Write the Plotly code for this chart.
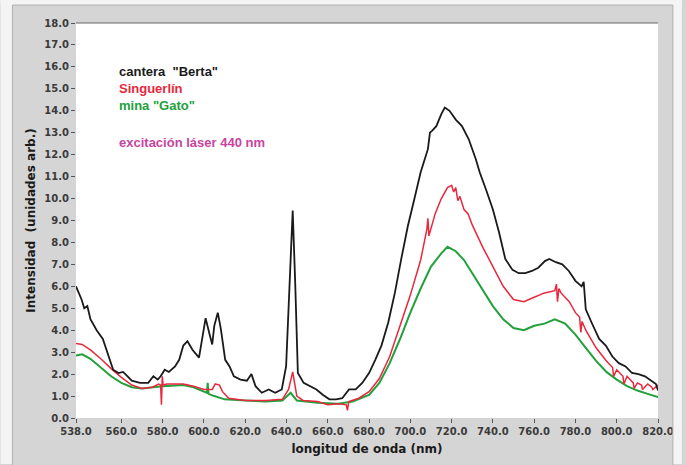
import plotly.graph_objects as go

# ---- data ----
berta_x = [538, 540.7, 542, 543.5, 545, 548, 551, 554.4, 556, 558.6, 560.8, 563, 565, 569, 573, 575.5, 577.6,
           579, 581, 583, 586, 588, 590, 592, 594.5, 597.6, 599, 600.8, 602.5, 604, 605, 606.7, 608.2, 610.3,
           612.4, 614.5, 617.7, 620.8, 623, 625, 628, 631.4, 634.5, 637.7, 639.8, 641.3, 643, 644.2, 645.5,
           648.3, 651.4, 654.5, 657.7, 660.8, 664, 667, 670.3, 673.5, 676.7, 680, 683, 686, 689.3, 692.5,
           695.6, 698.8, 702, 705, 708.5, 709.5, 710.6, 712.6, 715, 716.7, 719, 722, 725, 728.3, 731.7, 733.6,
           736.7, 740, 743, 746, 749.5, 752.5, 755.7, 758.9, 762, 765.2, 767.3, 770.5, 773.6, 776.8, 780, 783,
           784, 785, 788.3, 791.5, 794.7, 797.9, 801, 804.3, 807.4, 810.5, 813.7, 816.8, 819, 820]
berta_y = [6.0, 5.4, 5.0, 5.1, 4.5, 4.0, 3.6, 2.65, 2.2, 2.05, 2.1, 1.9, 1.7, 1.6, 1.6, 1.9, 1.75,
           1.9, 2.2, 2.1, 2.35, 2.65, 3.3, 3.5, 3.1, 2.75, 3.6, 4.55, 3.9, 3.35, 4.2, 4.8, 4.05, 2.65,
           2.35, 1.9, 1.75, 1.7, 2.0, 1.45, 1.15, 1.3, 1.15, 1.3, 2.35, 5.4, 9.45, 6.2, 2.05,
           1.6, 1.45, 1.3, 1.05, 0.85, 0.85, 0.9, 1.3, 1.3, 1.6, 2.05, 2.65, 3.3, 4.35, 5.7,
           7.25, 8.75, 10.0, 11.2, 12.25, 13.0, 13.1, 13.3, 13.85, 14.15, 14.0, 13.6, 13.3, 12.7, 11.8, 11.2,
           10.4, 9.5, 8.45, 7.25, 6.75, 6.6, 6.6, 6.7, 6.85, 7.15, 7.25, 7.1, 7.0, 6.7, 6.25, 6.0,
           6.2, 4.95, 4.25, 3.6, 3.3, 2.8, 2.5, 2.35, 2.05, 2.0, 1.9, 1.7, 1.55, 1.25]

sing_x = [538, 541, 545, 550, 555, 560, 565, 570, 575, 578, 579, 579.4, 579.8, 580.2, 582, 590, 595, 600,
          604, 605.5, 607.5, 609, 612, 620, 630, 638, 641, 643, 645, 648, 655, 660, 665, 669, 669.5, 670.2,
          675, 680, 685, 690, 695, 700, 705, 708, 708.5, 709, 712, 715, 718, 720, 721, 722, 723, 724,
          726, 728, 730, 735, 740, 745, 750, 755, 760, 765, 770, 770.8, 771.3, 772, 773, 777, 780,
          782, 782.6, 783.2, 785, 790, 795, 798, 798.5, 800, 803, 803.5, 805, 808, 808.5, 810, 812,
          812.5, 815, 817, 817.5, 820]
sing_y = [3.4, 3.35, 3.1, 2.7, 2.25, 1.85, 1.5, 1.35, 1.4, 1.55, 1.5, 0.6, 1.9, 1.5, 1.55, 1.55, 1.45, 1.3,
          1.3, 1.55, 1.5, 1.2, 0.9, 0.8, 0.8, 0.85, 1.3, 2.1, 1.0, 0.8, 0.75, 0.6, 0.65, 0.6, 0.35, 0.75,
          0.9, 1.2, 1.8, 2.8, 4.2, 5.6, 7.2, 8.6, 9.1, 8.3, 9.3, 10.0, 10.5, 10.6, 10.3, 10.5, 9.9, 10.1,
          9.5, 9.3, 8.8, 7.8, 6.9, 6.0, 5.4, 5.3, 5.5, 5.7, 5.8, 6.1, 5.3, 5.9, 5.7, 5.3, 4.8,
          4.6, 3.9, 4.4, 4.0, 3.2, 2.6, 2.3, 1.9, 2.2, 1.9, 1.55, 1.9, 1.6, 1.35, 1.6, 1.5, 1.3,
          1.55, 1.4, 1.3, 1.5, 1.25]

gato_x = [538, 541, 545, 550, 555, 560, 565, 570, 575, 580, 590, 595, 600, 601.5, 601.8, 602.2, 605,
          610, 620, 630, 638, 642, 645, 655, 665, 672, 680, 685, 690, 695, 700, 705, 710, 715, 718,
          722, 726, 730, 735, 740, 745, 750, 755, 760, 765, 770, 775, 780, 785, 790, 795, 800, 805,
          810, 815, 820]
gato_y = [2.85, 2.9, 2.7, 2.3, 1.9, 1.6, 1.4, 1.35, 1.4, 1.45, 1.5, 1.4, 1.2, 1.15, 1.6, 1.1, 1.0,
          0.85, 0.8, 0.75, 0.8, 1.15, 0.8, 0.7, 0.65, 0.75, 1.05, 1.6, 2.5, 3.6, 4.8, 5.9, 6.9, 7.5, 7.8,
          7.6, 7.2, 6.6, 5.8, 5.1, 4.5, 4.1, 4.0, 4.2, 4.3, 4.5, 4.3, 3.8, 3.2, 2.6, 2.1, 1.75, 1.45,
          1.25, 1.1, 0.95]

x_ticks = [538, 560, 580, 600, 620, 640, 660, 680, 700, 720, 740, 760, 780, 800, 820]
y_ticks = [0, 1, 2, 3, 4, 5, 6, 7, 8, 9, 10, 11, 12, 13, 14, 15, 16, 17, 18]

legend_texts = ['cantera  "Berta"', 'Singuerlín', 'mina "Gato"']
legend_colors = ['#1a1a1a', '#e8283c', '#22a03c']
note_text = 'excitación láser 440 nm'
note_color = '#c8449e'

# ---- figure ----
W, H = 686, 465
L, R, T, B = 76, 24, 23, 46
pw, ph = W - L - R, H - T - B

fig = go.Figure()
fig.add_trace(go.Scatter(x=gato_x, y=gato_y, mode='lines', line=dict(color=legend_colors[2], width=2), name=legend_texts[2]))
fig.add_trace(go.Scatter(x=sing_x, y=sing_y, mode='lines', line=dict(color=legend_colors[1], width=1.5), name=legend_texts[1]))
fig.add_trace(go.Scatter(x=berta_x, y=berta_y, mode='lines', line=dict(color=legend_colors[0], width=1.8), name=legend_texts[0]))

def px(xp):
    return (xp - L) / pw

def py(yp):
    return 1 - (yp - T) / ph

# white outer margins around the gray panel (paper is gray)
for x0, x1, y0, y1 in [(0, 12, 0, H), (677, W, 0, H), (0, W, 0, 5)]:
    fig.add_shape(type='rect', xref='paper', yref='paper', x0=px(x0), x1=px(x1), y0=py(y1), y1=py(y0),
                  fillcolor='#f4f4f4', line=dict(width=0), layer='above')
fig.add_shape(type='rect', xref='paper', yref='paper', x0=px(12), x1=px(677), y0=py(470), y1=py(5),
              fillcolor='rgba(0,0,0,0)', line=dict(color='#b0b0b0', width=1), layer='above')
# top border line of plot
fig.add_shape(type='line', xref='paper', yref='paper', x0=0, x1=1, y0=1, y1=1,
              line=dict(color='#666666', width=1.2))

ann_font = 'Liberation Sans, Arial, sans-serif'
ys = [72, 89, 106]
for t, c, yy in zip(legend_texts, legend_colors, ys):
    fig.add_annotation(x=px(117), y=py(yy), xref='paper', yref='paper', text='<b>' + t + '</b>',
                       showarrow=False, xanchor='left', yanchor='middle',
                       font=dict(family=ann_font, size=13, color=c))
fig.add_annotation(x=px(117), y=py(143), xref='paper', yref='paper', text='<b>' + note_text + '</b>',
                   showarrow=False, xanchor='left', yanchor='middle',
                   font=dict(family=ann_font, size=13, color=note_color))

fig.update_layout(
    width=W, height=H,
    margin=dict(l=L, r=R, t=T, b=B),
    paper_bgcolor='#d5d5d5', plot_bgcolor='white',
    showlegend=False,
    font=dict(family='DejaVu Sans, sans-serif', color='#333333'),
    xaxis=dict(range=[538, 820], tickvals=x_ticks, ticktext=[f'<b>{v:.1f}</b>' for v in x_ticks],
               ticks='outside', ticklen=4, tickcolor='#555555', showgrid=False, zeroline=False,
               showline=False, tickfont=dict(size=10, color='#3a3a3a'),
               title=dict(text='<b>longitud de onda (nm)</b>', font=dict(size=12, color='#1a1a1a'), standoff=8)),
    yaxis=dict(range=[0, 18], tickvals=y_ticks, ticktext=[f'<b>{v:.1f}</b>' for v in y_ticks],
               ticks='outside', ticklen=4, tickcolor='#555555', showgrid=False, zeroline=False,
               showline=False, tickfont=dict(size=10, color='#3a3a3a'),
               title=dict(text='<b>Intensidad  (unidades arb.)</b>', font=dict(size=12, color='#1a1a1a'), standoff=6)),
)

fig.write_html('out.html')
